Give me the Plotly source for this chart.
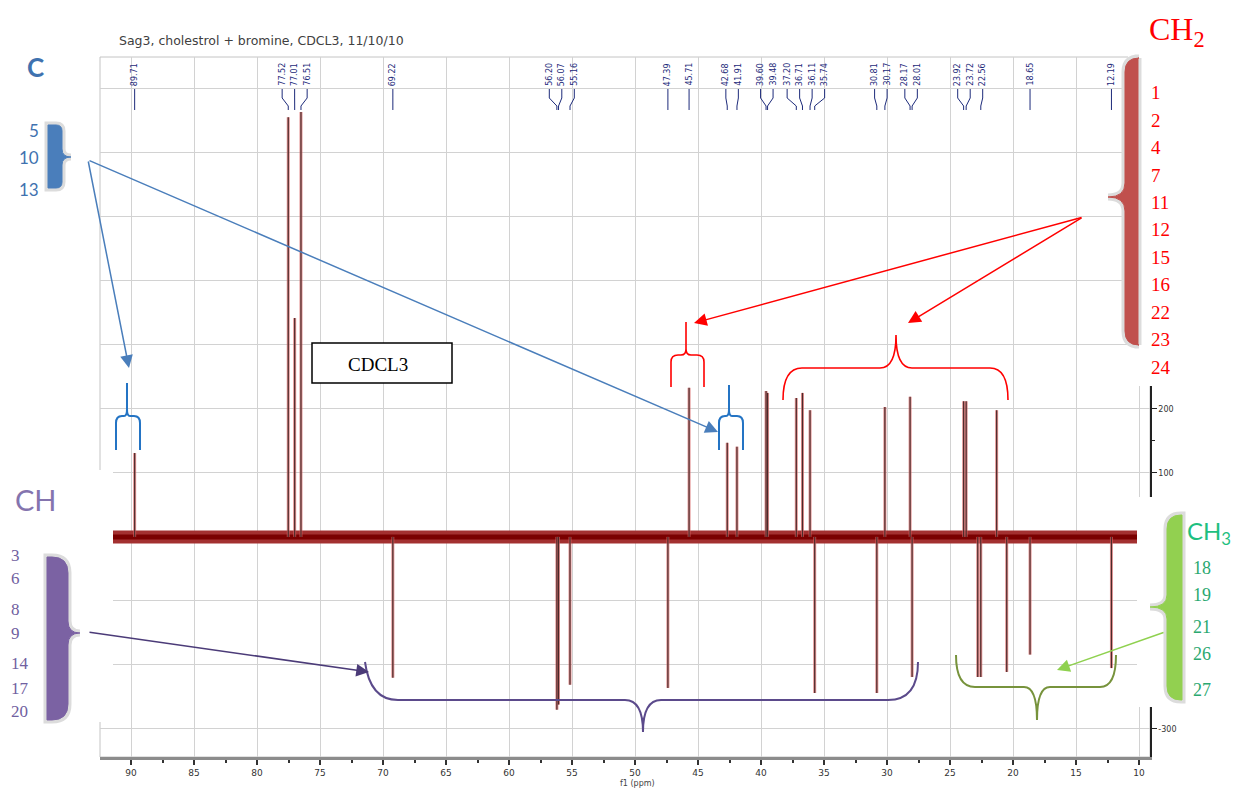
import re
import plotly.graph_objects as go

# ---------------- data ----------------
title_text = "Sag3, cholestrol + bromine, CDCL3, 11/10/10"

pos_ppm = [89.71, 77.52, 77.01, 76.51, 45.71, 42.68, 41.91, 39.60, 39.48, 37.20,
           36.71, 36.11, 30.17, 28.17, 23.92, 23.72, 21.30]
pos_int = [131, 656, 342, 664, 233, 147, 141, 228, 225, 217,
           225, 198, 203, 219, 212, 212, 198]
neg_ppm = [69.22, 56.20, 56.07, 55.16, 47.39, 35.74, 30.81, 28.01, 22.80, 22.56,
           20.50, 18.65, 12.19]
neg_int = [-220, -270, -262, -231, -236, -244, -244, -219, -219, -219,
           -211, -184, -205]

label_ppm = [89.71, 77.52, 77.01, 76.51, 69.22, 56.20, 56.07, 55.16, 47.39, 45.71,
             42.68, 41.91, 39.60, 39.48, 37.20, 36.71, 36.11, 35.74, 30.81, 30.17,
             28.17, 28.01, 23.92, 23.72, 22.56, 18.65, 12.19]

x_ticks = list(range(10, 95, 5))
x_ticktext = [str(v) for v in x_ticks]
y_ticks = list(range(-300, 800, 100))
y_visible = [-300, 100, 200]          # the other tick labels are hidden under the pasted panels
y_ticktext = [str(v) if v in y_visible else "" for v in y_ticks]

c_numbers = ["5", "10", "13"]
ch_numbers = ["3", "6", "8", "9", "14", "17", "20"]
ch2_numbers = ["1", "2", "4", "7", "11", "12", "15", "16", "22", "23", "24"]
ch3_numbers = ["18", "19", "21", "26", "27"]

# ---------------- geometry helpers ----------------
W, H = 1242, 789
L, R, T, B = 100, 1150, 57, 757
XR = [92.46, 9.13]
YR = [-344, 750]


def PX(x):
    return (x - L) / (R - L)


def PY(y):
    return (B - y) / (B - T)


def ppm_px(p):
    return L + (XR[0] - p) / (XR[0] - XR[1]) * (R - L)


def P(s):
    toks = re.findall(r'[MLQCZ]|-?\d+\.?\d*', s)
    out = []
    pend = None
    for t in toks:
        if t.isalpha():
            out.append(t)
        else:
            v = float(t)
            if pend is None:
                pend = v
            else:
                out.append(f"{PX(pend):.5f},{PY(v):.5f}")
                pend = None
    return " ".join(out)


def brace_right(xl, xr, xt, yt, yb, ym, r, d):
    return (f"M {xl} {yt} L {xr-r} {yt} Q {xr} {yt} {xr} {yt+r} L {xr} {ym-d} "
            f"Q {xr} {ym} {xt} {ym} Q {xr} {ym} {xr} {ym+d} L {xr} {yb-r} "
            f"Q {xr} {yb} {xr-r} {yb} L {xl} {yb} Z")


def brace_left(xl, xr, xt, yt, yb, ym, r, d):
    return (f"M {xr} {yt} L {xl+r} {yt} Q {xl} {yt} {xl} {yt+r} L {xl} {ym-d} "
            f"Q {xl} {ym} {xt} {ym} Q {xl} {ym} {xl} {ym+d} L {xl} {yb-r} "
            f"Q {xl} {yb} {xl+r} {yb} L {xr} {yb} Z")


# ---------------- traces ----------------
all_ppm = pos_ppm + neg_ppm
all_int = pos_int + neg_int
sx, sy = [], []
for p, h in zip(all_ppm, all_int):
    sx += [p, p, None]
    sy += [0, h, None]

fig = go.Figure()
fig.add_trace(go.Scatter(x=[XR[0], XR[1]], y=[0, 0], mode="lines",
                         line=dict(color="#a33030", width=13), hoverinfo="skip"))
fig.add_trace(go.Scatter(x=[XR[0], XR[1]], y=[0, 0], mode="lines",
                         line=dict(color="#7a0000", width=5), hoverinfo="skip"))
fig.add_trace(go.Scatter(x=sx, y=sy, mode="lines",
                         line=dict(color="rgba(215,100,100,0.7)", width=3), hoverinfo="skip"))
fig.add_trace(go.Scatter(x=sx, y=sy, mode="lines",
                         line=dict(color="#4a2a2a", width=1.2), hoverinfo="skip"))

shapes = []
annotations = []

# plot frame
shapes.append(dict(type="rect", xref="paper", yref="paper", x0=0, y0=0, x1=1, y1=1,
                   line=dict(color="#c4c4c4", width=1), layer="below"))

# peak labels with leader lines
lpx = [ppm_px(p) for p in label_ppm]
order = sorted(range(len(lpx)), key=lambda i: lpx[i])
spread = [lpx[i] for i in order]
gap = 12.5
for _ in range(600):
    for i in range(len(spread) - 1):
        d = spread[i + 1] - spread[i]
        if d < gap:
            s = (gap - d) / 2
            spread[i] -= s
            spread[i + 1] += s
for k, i in enumerate(order):
    xs = spread[k]
    xp = lpx[i]
    shapes.append(dict(type="path", xref="paper", yref="paper",
                       path=P(f"M {xs:.2f} 89 L {xs:.2f} 98 L {xp:.2f} 106 L {xp:.2f} 110"),
                       line=dict(color="#1c2a7a", width=1), layer="above"))
    annotations.append(dict(x=PX(xs), y=PY(88), xref="paper", yref="paper",
                            text=f"{label_ppm[i]:.2f}", textangle=-90, showarrow=False,
                            xanchor="center", yanchor="bottom",
                            font=dict(size=8, color="#1c2a7a", family="DejaVu Sans")))

# white covers (pasted annotation panels)
for (x0, y0, x1, y1) in [(0, 470, 113, 722), (1128, 0, 1242, 386), (1137, 497, 1242, 707)]:
    shapes.append(dict(type="rect", xref="paper", yref="paper",
                       x0=PX(x0), y0=PY(y1), x1=PX(x1), y1=PY(y0),
                       fillcolor="white", line=dict(width=0), layer="above"))

# CDCL3 box
shapes.append(dict(type="rect", xref="paper", yref="paper",
                   x0=PX(312), y0=PY(383), x1=PX(452), y1=PY(343),
                   fillcolor="white", line=dict(color="black", width=1.5), layer="above"))
annotations.append(dict(x=PX(378), y=PY(364), xref="paper", yref="paper", text="CDCL3",
                        showarrow=False, xanchor="center", yanchor="middle",
                        font=dict(size=19, color="black", family="Liberation Serif")))

# thin line braces
thin = [
    ("M 116 450 L 116 423 Q 116 416 122 416 L 124 416 Q 127 416 127 409 L 127 383 "
     "M 127 409 Q 127 416 130 416 L 134 416 Q 140 416 140 423 L 140 450", "#2474c4", 2),
    ("M 719 450 L 719 423 Q 719 416 725 416 L 726 416 Q 729 416 729 409 L 729 385 "
     "M 729 409 Q 729 416 732 416 L 737 416 Q 743 416 743 423 L 743 450", "#2474c4", 2),
    ("M 671 387 L 671 362 Q 671 355 678 355 L 681 355 Q 686 355 686 349 L 686 322 "
     "M 686 349 Q 686 355 691 355 L 697 355 Q 704 355 704 362 L 704 387", "#ff0000", 1.6),
    ("M 783 400 Q 783 368 802 368 L 880 368 Q 896 368 896 335 Q 896 368 912 368 "
     "L 990 368 Q 1008 368 1008 400", "#ff0000", 1.6),
    ("M 365 662 Q 370 700 398 700 L 625 700 Q 643 700 643 732 Q 643 700 661 700 "
     "L 888 700 Q 918 700 918 662", "#5b4a8b", 2),
    ("M 956 655 Q 956 687 975 687 L 1024 687 Q 1037 687 1037 720 Q 1037 687 1050 687 "
     "L 1100 687 Q 1116 687 1116 655", "#77933c", 2),
]
for pth, col, w in thin:
    shapes.append(dict(type="path", xref="paper", yref="paper", path=P(pth),
                       line=dict(color=col, width=w), layer="above"))

# filled braces
filled = [
    (brace_right(48, 62, 71, 125, 188, 157, 6, 8), "#4a7ebb"),
    (brace_right(47, 68, 80, 557, 720, 633, 16, 12), "#7b62a3"),
    (brace_left(1125, 1138, 1108, 58, 345, 197, 14, 14), "#c0504d"),
    (brace_left(1167, 1182, 1150, 515, 700, 607, 14, 12), "#92d050"),
]
for pth, col in filled:
    shapes.append(dict(type="path", xref="paper", yref="paper", path=P(pth),
                       fillcolor="#e2e2e2", line=dict(color="#dcdcdc", width=7), layer="above"))
    shapes.append(dict(type="path", xref="paper", yref="paper", path=P(pth),
                       fillcolor=col, line=dict(color=col, width=1), layer="above"))

# arrows
arrows = [
    ((88, 160), (129, 368), "#4a7ebb"),
    ((88, 160), (718, 432), "#4a7ebb"),
    ((1083, 217), (694, 323), "#ff0000"),
    ((1083, 217), (908, 323), "#ff0000"),
    ((88, 632), (369, 672), "#4b3b78"),
    ((1165, 632), (1057, 670), "#8fd14f"),
]
for (tx, ty), (hx, hy), col in arrows:
    annotations.append(dict(x=PX(hx), y=PY(hy), xref="paper", yref="paper", text="",
                            showarrow=True, ax=tx - hx, ay=ty - hy, arrowcolor=col,
                            arrowwidth=1.5, arrowhead=2, arrowsize=1.7))

# panel texts
def txt(x, y, s, size, color, family, xanchor="left"):
    annotations.append(dict(x=PX(x), y=PY(y), xref="paper", yref="paper", text=s,
                            showarrow=False, xanchor=xanchor, yanchor="middle",
                            borderpad=0,
                            font=dict(size=size, color=color, family=family)))

txt(118, 40, title_text, 12.5, "#404040", "DejaVu Sans")
txt(637, 784, "f1 (ppm)", 8, "#444444", "DejaVu Sans", "center")

txt(26, 67, "<b>C</b>", 26, "#3f72af", "Lato")
for s, y in zip(c_numbers, [130, 158, 189]):
    txt(40, y, s, 17, "#3f72af", "Lato", "right")

txt(14, 499, "CH", 29, "#8474ae", "Lato")
for s, y in zip(ch_numbers, [555, 578, 609, 633, 663, 688, 711]):
    txt(10, y, s, 17, "#7060a0", "Liberation Serif")

txt(1148, 32, "CH<sub>2</sub>", 32, "#ff0000", "Liberation Serif")
step = (367 - 93) / (len(ch2_numbers) - 1)
for k, s in enumerate(ch2_numbers):
    txt(1150, 93 + k * step, s, 19, "#ff0000", "Liberation Serif")

txt(1186, 532, "CH<sub>3</sub>", 24, "#1fbf80", "Lato")
for s, y in zip(ch3_numbers, [568, 595, 627, 654, 690]):
    txt(1192, y, s, 18, "#2aa870", "Liberation Serif")

fig.update_layout(
    width=W, height=H,
    margin=dict(l=L, r=W - R, t=T, b=H - B),
    plot_bgcolor="white", paper_bgcolor="white",
    showlegend=False,
    font=dict(family="DejaVu Sans"),
    shapes=shapes, annotations=annotations,
    xaxis=dict(range=XR, tickvals=x_ticks, ticktext=x_ticktext, ticks="outside",
               ticklen=5, tickwidth=1.5, tickcolor="#333333",
               showgrid=True, gridcolor="#d2d2d2", gridwidth=1.2,
               showline=True, linecolor="#8c8c8c", linewidth=3, zeroline=False,
               tickfont=dict(size=9, color="#333333"),
               minor=dict(tickmode="linear", tick0=2.5, dtick=5, ticks="outside",
                          ticklen=3, tickcolor="#333333", showgrid=False)),
    yaxis=dict(range=YR, side="right", tickvals=y_ticks, ticktext=y_ticktext,
               ticks="outside", ticklen=5, tickcolor="#222222",
               showgrid=True, gridcolor="#d2d2d2", gridwidth=1.2,
               showline=True, linecolor="#222222", linewidth=1.5, zeroline=False,
               tickfont=dict(size=8, color="#333333"),
               minor=dict(tickmode="linear", tick0=50, dtick=100, ticks="outside",
                          ticklen=3, tickcolor="#222222", showgrid=False)),
)

fig.write_html("out.html")
